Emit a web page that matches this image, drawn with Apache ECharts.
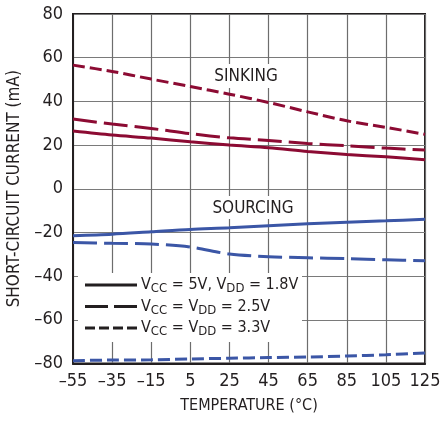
<!DOCTYPE html>
<html>
<head>
<meta charset="utf-8">
<script src="https://cdn.jsdelivr.net/npm/echarts@6/dist/echarts.min.js"></script>
<style>
  html, body { margin: 0; padding: 0; background: #fff; }
  #chart { width: 440px; height: 421px; }
</style>
</head>
<body>
<div id="chart"></div>
<script>
// Temperature points (°C) at which the curves are sampled
const temps = [-55, -35, -15, 5, 25, 45, 65, 85, 105, 125];

// Sinking short-circuit current (mA)
const sink18 = [26.4, 24.6, 23.2, 21.5, 20.0, 18.8, 17.1, 15.7, 14.6, 13.3];
const sink25 = [31.9, 29.6, 27.6, 25.2, 23.3, 22.1, 20.7, 19.7, 18.6, 17.7];
const sink33 = [56.6, 53.7, 50.2, 46.8, 43.3, 39.5, 35.2, 31.1, 28.1, 24.9];

// Sourcing short-circuit current (mA)
const src18 = [-21.5, -20.8, -19.7, -18.6, -17.9, -16.9, -16.0, -15.3, -14.7, -14.0];
const src25 = [-24.6, -25.0, -25.3, -26.7, -29.9, -31.1, -31.6, -32.0, -32.5, -33.0];
const src33 = [-78.7, -78.4, -78.3, -77.9, -77.6, -77.3, -77.0, -76.6, -76.0, -75.2];

// Axis ticks
const xTicks = { min: -55, max: 125, step: 20 };
const yTicks = { min: -80, max: 80, step: 20 };

const RED = '#8c0b33';
const BLUE = '#3b56a6';
const INK = '#231f20';
const FONT = '"DejaVu Sans Condensed", "Liberation Sans", sans-serif';

const SOLID = 'solid';
const LONG_DASH = [24, 7];
const SHORT_DASH = [12, 5];

function pairs(values) {
  return temps.map((t, i) => [t, values[i]]);
}
function dashMinus(v) {
  return String(v).replace('-', '\u2013');
}
function lineSeries(name, values, color, dash) {
  return {
    name: name,
    type: 'line',
    data: pairs(values),
    showSymbol: false,
    symbol: 'none',
    smooth: 0.3,
    z: 3,
    lineStyle: { color: color, width: 3, type: dash }
  };
}

const chart = echarts.init(document.getElementById('chart'), null, { renderer: 'canvas' });

const legendRows = [
  { dash: null, text: '{n|V}{s|CC}{n| = 5V, V}{s|DD}{n| = 1.8V}' },
  { dash: [23, 6], text: '{n|V}{s|CC}{n| = V}{s|DD}{n| = 2.5V}' },
  { dash: [10, 4], text: '{n|V}{s|CC}{n| = V}{s|DD}{n| = 3.3V}' }
];
const legendTop = 285;
const legendStep = 21.5;
const legendGraphics = [];
legendRows.forEach((row, i) => {
  const y = legendTop + i * legendStep;
  legendGraphics.push({
    type: 'line',
    z: 4,
    shape: { x1: 85, y1: y, x2: 137, y2: y },
    style: { stroke: INK, lineWidth: 3, lineDash: row.dash }
  });
  legendGraphics.push({
    type: 'text',
    z: 4,
    x: 141,
    y: y,
    style: {
      text: row.text,
      fill: INK,
      verticalAlign: 'middle',
      rich: {
        n: { fontFamily: FONT, fontSize: 16, fill: INK, lineHeight: 20 },
        s: { fontFamily: FONT, fontSize: 13, fill: INK, lineHeight: 20, padding: [8, 0, 0, 0] }
      }
    }
  });
});

const option = {
  animation: false,
  backgroundColor: '#ffffff',
  grid: {
    left: 73, right: 15, top: 14, bottom: 57.5,
    outerBoundsMode: 'none',
    containLabel: false,
    show: true, borderColor: INK, borderWidth: 2, backgroundColor: 'transparent'
  },
  xAxis: {
    type: 'value',
    min: xTicks.min, max: xTicks.max, interval: xTicks.step,
    name: 'TEMPERATURE (\u00B0C)',
    nameLocation: 'middle',
    nameGap: 34,
    nameTextStyle: { fontFamily: FONT, fontSize: 16, color: INK },
    axisLine: { show: true, onZero: false, lineStyle: { color: INK, width: 2 } },
    axisTick: { show: false },
    axisLabel: {
      fontFamily: FONT, fontSize: 18, color: INK, margin: 9,
      showMinLabel: true, showMaxLabel: true, hideOverlap: false,
      formatter: dashMinus
    },
    splitLine: { show: true, lineStyle: { color: '#6d6d6d', width: 1.2 } }
  },
  yAxis: {
    type: 'value',
    min: yTicks.min, max: yTicks.max, interval: yTicks.step,
    name: 'SHORT-CIRCUIT CURRENT (mA)',
    nameLocation: 'middle',
    nameGap: 49,
    nameTextStyle: { fontFamily: FONT, fontSize: 17, color: INK },
    axisLine: { show: true, onZero: false, lineStyle: { color: INK, width: 2 } },
    axisTick: { show: false },
    axisLabel: {
      fontFamily: FONT, fontSize: 18, color: INK, margin: 10,
      showMinLabel: true, showMaxLabel: true,
      formatter: dashMinus
    },
    splitLine: { show: true, lineStyle: { color: '#7a7a7a', width: 1.2 } }
  },
  graphic: [
    // white panels behind the annotations, hiding the grid lines there
    { type: 'rect', z: 1, shape: { x: 207, y: 64, width: 78, height: 24 }, style: { fill: '#fff' } },
    { type: 'rect', z: 1, shape: { x: 206, y: 196, width: 94, height: 23 }, style: { fill: '#fff' } },
    { type: 'rect', z: 1, shape: { x: 78, y: 273, width: 224, height: 69 }, style: { fill: '#fff' } },
    {
      type: 'text', z: 4, x: 246, y: 77,
      style: { text: 'SINKING', fontFamily: FONT, fontSize: 17, fill: INK, align: 'center', verticalAlign: 'middle' }
    },
    {
      type: 'text', z: 4, x: 253, y: 209,
      style: { text: 'SOURCING', fontFamily: FONT, fontSize: 17, fill: INK, align: 'center', verticalAlign: 'middle' }
    }
  ].concat(legendGraphics),
  series: [
    lineSeries('sink 1.8V', sink18, RED, SOLID),
    lineSeries('sink 2.5V', sink25, RED, LONG_DASH),
    lineSeries('sink 3.3V', sink33, RED, SHORT_DASH),
    lineSeries('source 1.8V', src18, BLUE, SOLID),
    lineSeries('source 2.5V', src25, BLUE, LONG_DASH),
    lineSeries('source 3.3V', src33, BLUE, SHORT_DASH)
  ]
};

chart.setOption(option);
</script>
</body>
</html>
